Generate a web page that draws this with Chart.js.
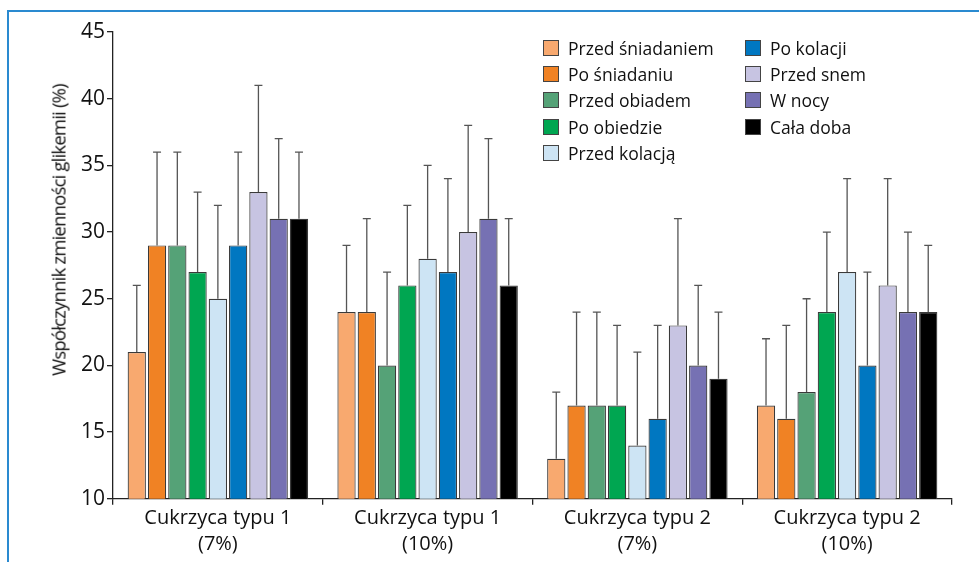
<!DOCTYPE html>
<html lang="pl">
<head>
    <meta charset="UTF-8">
    <script src="https://cdn.jsdelivr.net/npm/chart.js"></script>
    <style>
        body, html {
            margin: 0;
            padding: 0;
            width: 979px;
            height: 562px;
            background: #fff;
            overflow: hidden;
            font-family: "Open Sans", sans-serif;
        }
        #frame {
            position: absolute;
            left: 7px;
            top: 10px;
            width: 980px;
            height: 560px;
            border-top: 2px solid #2a8ad0;
            border-left: 2px solid #2a8ad0;
        }
        #wrap {
            position: absolute;
            left: 0;
            top: 0;
            width: 979px;
            height: 562px;
        }
        #ytitle {
            position: absolute;
            left: 58px;
            top: 230px;
            transform: translate(-50%, -50%) rotate(-90deg);
            white-space: nowrap;
            font-size: 18.5px;
            letter-spacing: -0.8px;
            color: #111;
        }
        #legend {
            position: absolute;
            left: 543px;
            top: 35px;
            display: grid;
            grid-template-columns: 202px auto;
            grid-auto-flow: column;
            grid-template-rows: repeat(5, 26.2px);
            font-size: 17.5px;
            color: #111;
        }
        .item {
            display: flex;
            align-items: center;
            height: 26.2px;
        }
        .box {
            width: 14px;
            height: 14px;
            border: 1px solid #444;
            margin-right: 9px;
        }
    </style>
</head>
<body>
    <div id="frame"></div>
    <div id="wrap"><canvas id="chart" width="979" height="562"></canvas></div>
    <div id="ytitle">Współczynnik zmienności glikemii (%)</div>
    <div id="legend"></div>

    <script>
        const groups = [
            ['Cukrzyca typu 1', '(7%)'],
            ['Cukrzyca typu 1', '(10%)'],
            ['Cukrzyca typu 2', '(7%)'],
            ['Cukrzyca typu 2', '(10%)']
        ];
        const seriesNames = ['Przed śniadaniem', 'Po śniadaniu', 'Przed obiadem', 'Po obiedzie',
            'Przed kolacją', 'Po kolacji', 'Przed snem', 'W nocy', 'Cała doba'];
        const seriesColors = ['#f8a96f', '#f08224', '#55a277', '#00a651',
            '#cde4f4', '#0077c1', '#c7c4e2', '#7671b3', '#000000'];

        // mean values per series, one value per group
        const przedSniadaniem = [21, 24, 13, 17];
        const poSniadaniu    = [29, 24, 17, 16];
        const przedObiadem   = [29, 20, 17, 18];
        const poObiedzie     = [27, 26, 17, 24];
        const przedKolacja   = [25, 28, 14, 27];
        const poKolacji      = [29, 27, 16, 20];
        const przedSnem      = [33, 30, 23, 26];
        const wNocy          = [31, 31, 20, 24];
        const calaDoba       = [31, 26, 19, 24];

        // upper end of error bars
        const errPrzedSniadaniem = [26, 29, 18, 22];
        const errPoSniadaniu     = [36, 31, 24, 23];
        const errPrzedObiadem    = [36, 27, 24, 25];
        const errPoObiedzie      = [33, 32, 23, 30];
        const errPrzedKolacja    = [32, 35, 21, 34];
        const errPoKolacji       = [36, 34, 23, 27];
        const errPrzedSnem       = [41, 38, 31, 34];
        const errWNocy           = [37, 37, 26, 30];
        const errCalaDoba        = [36, 31, 24, 29];

        const yTicks = [10, 15, 20, 25, 30, 35, 40, 45];

        const values = [przedSniadaniem, poSniadaniu, przedObiadem, poObiedzie,
            przedKolacja, poKolacji, przedSnem, wNocy, calaDoba];
        const errors = [errPrzedSniadaniem, errPoSniadaniu, errPrzedObiadem, errPoObiedzie,
            errPrzedKolacja, errPoKolacji, errPrzedSnem, errWNocy, errCalaDoba];

        const font = '"Open Sans", sans-serif';

        // legend in two columns, filled column by column
        const legend = document.getElementById('legend');
        seriesNames.forEach((name, i) => {
            const item = document.createElement('div');
            item.className = 'item';
            const box = document.createElement('span');
            box.className = 'box';
            box.style.background = seriesColors[i];
            item.appendChild(box);
            item.appendChild(document.createTextNode(name));
            legend.appendChild(item);
        });

        const errorBars = {
            id: 'errorBars',
            afterDatasetsDraw(chart) {
                const ctx = chart.ctx;
                const yScale = chart.scales.y;
                ctx.save();
                ctx.strokeStyle = '#555';
                ctx.lineWidth = 1.3;
                chart.data.datasets.forEach((ds, di) => {
                    const meta = chart.getDatasetMeta(di);
                    meta.data.forEach((bar, i) => {
                        const top = yScale.getPixelForValue(ds.errHigh[i]);
                        ctx.beginPath();
                        ctx.moveTo(bar.x, bar.y);
                        ctx.lineTo(bar.x, top);
                        ctx.moveTo(bar.x - 4, top);
                        ctx.lineTo(bar.x + 4, top);
                        ctx.stroke();
                    });
                });
                ctx.restore();
            }
        };

        new Chart(document.getElementById('chart'), {
            type: 'bar',
            data: {
                labels: groups,
                datasets: seriesNames.map((name, i) => ({
                    label: name,
                    data: values[i],
                    errHigh: errors[i],
                    backgroundColor: seriesColors[i],
                    borderColor: '#3a3a3a',
                    borderWidth: 1.2,
                    borderSkipped: 'bottom',
                    barPercentage: 0.9,
                    categoryPercentage: 0.87
                }))
            },
            options: {
                responsive: false,
                animation: false,
                layout: {
                    padding: { left: 53, right: 27, top: 32, bottom: 4 }
                },
                plugins: {
                    legend: { display: false },
                    tooltip: { enabled: false }
                },
                scales: {
                    x: {
                        offset: true,
                        grid: {
                            offset: true,
                            drawOnChartArea: false,
                            drawTicks: true,
                            tickLength: 6,
                            color: '#222',
                            lineWidth: 1.3
                        },
                        border: { display: true, color: '#222', width: 1.3 },
                        ticks: {
                            color: '#111',
                            font: { family: font, size: 20, lineHeight: 1.28 },
                            padding: 1,
                            maxRotation: 0
                        }
                    },
                    y: {
                        min: 10,
                        max: 45,
                        afterFit(scale) { scale.width = 60; },
                        afterBuildTicks(scale) {
                            scale.ticks = yTicks.map(v => ({ value: v }));
                        },
                        grid: {
                            drawOnChartArea: false,
                            drawTicks: true,
                            tickLength: 6,
                            color: '#222',
                            lineWidth: 1.3
                        },
                        border: { display: true, color: '#222', width: 1.3 },
                        ticks: {
                            color: '#111',
                            font: { family: font, size: 21 },
                            padding: 2
                        }
                    }
                }
            },
            plugins: [errorBars]
        });
    </script>
</body>
</html>
